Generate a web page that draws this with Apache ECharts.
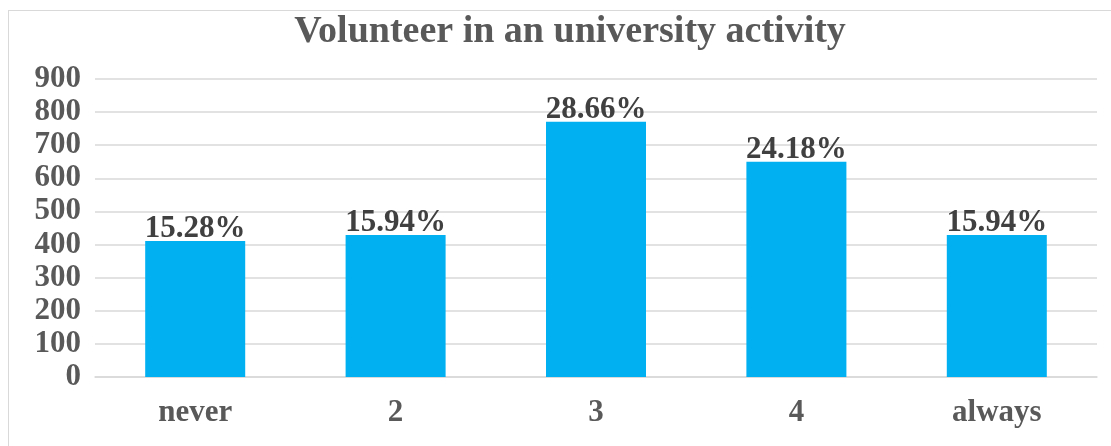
<!DOCTYPE html>
<html>
<head>
<meta charset="utf-8">
<script src="https://cdn.jsdelivr.net/npm/echarts@6/dist/echarts.min.js"></script>
<style>
  html, body { margin: 0; padding: 0; background: #fff; }
  #frame { position: absolute; left: 8px; top: 10px; width: 1120px; height: 460px; border: 1px solid #d9d9d9; }
  #chart { position: absolute; left: 0; top: 0; width: 1111px; height: 446px; }
</style>
</head>
<body>
<div id="frame"></div>
<div id="chart"></div>
<script>
  // values
  const categories = ['never', '2', '3', '4', 'always']
  const counts = [411, 429, 771, 650, 429]
  const shares = ['15.28%', '15.94%', '28.66%', '24.18%', '15.94%']

  const font = '"Liberation Serif", "Times New Roman", serif'
  let myChart = echarts.init(document.getElementById('chart'))

  let option = {
    animation: false,
    title: {
      text: 'Volunteer in an university activity',
      left: 565,
      textAlign: 'center',
      top: 8,
      textStyle: { fontFamily: font, fontSize: 38, fontWeight: 'bold', color: '#595959' }
    },
    grid: { left: 95, right: 14, top: 79, bottom: 69 },
    xAxis: {
      type: 'category',
      data: categories,
      axisTick: { show: false },
      axisLine: { lineStyle: { color: '#d9d9d9', width: 1.5 } },
      axisLabel: { fontFamily: font, fontSize: 31, fontWeight: 'bold', color: '#595959', margin: 20 }
    },
    yAxis: {
      type: 'value',
      min: 0,
      max: 900,
      interval: 100,
      axisLabel: { fontFamily: font, fontSize: 31, fontWeight: 'bold', color: '#595959', margin: 14 },
      splitLine: { lineStyle: { color: '#d9d9d9', width: 1.5 } }
    },
    series: [
      {
        type: 'bar',
        data: counts,
        barWidth: 100,
        itemStyle: { color: '#00b0f0' },
        label: {
          show: true,
          position: 'top',
          distance: -4,
          formatter: p => shares[p.dataIndex],
          fontFamily: font,
          fontSize: 31,
          fontWeight: 'bold',
          color: '#404040'
        }
      }
    ]
  }

  myChart.setOption(option)
</script>
</body>
</html>
